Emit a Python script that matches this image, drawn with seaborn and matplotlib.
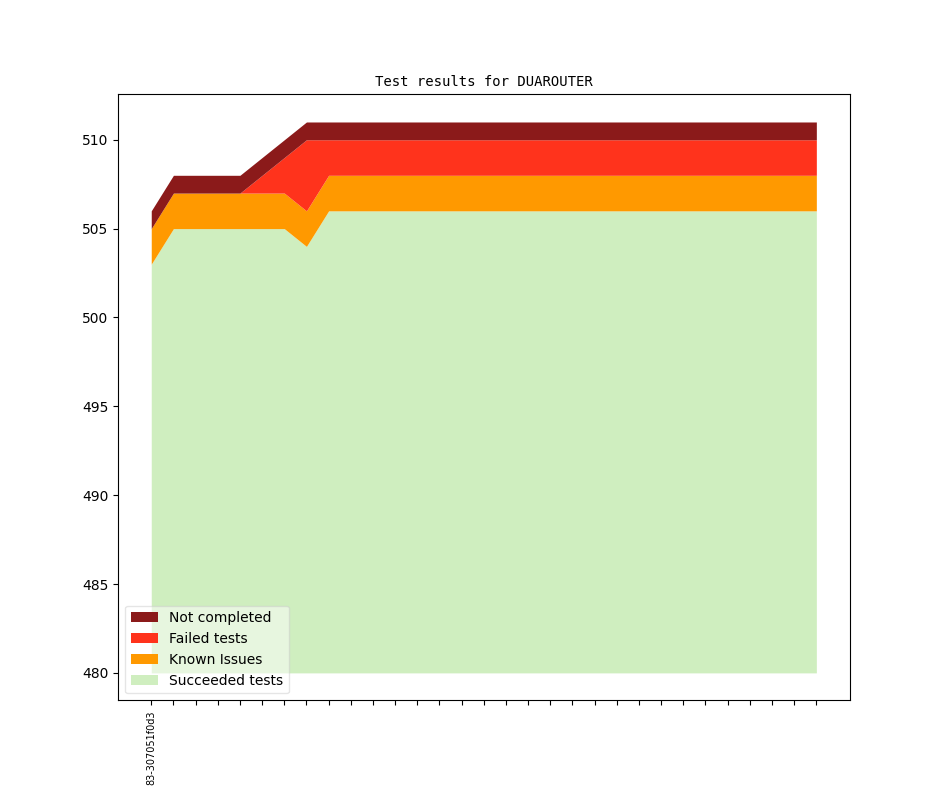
import matplotlib
matplotlib.use("Agg")
import matplotlib.pyplot as plt
import seaborn as sns
import numpy as np
import pandas as pd

revisions = ["83-307051f0d3"] + [""] * 30
succeeded = [503, 505, 505, 505, 505, 505, 505, 504] + [506] * 23
known = [2, 2, 2, 2, 2, 2, 2, 2] + [2] * 23
failed = [0, 0, 0, 0, 0, 1, 2, 4] + [2] * 23
not_completed = [1, 1, 1, 1, 1, 1, 1, 1] + [1] * 23
baseline = 480

labels = ["Succeeded tests", "Known Issues", "Failed tests", "Not completed"]
colors = ["#cfeebf", "#ff9900", "#ff331c", "#8b1a1a"]

x = np.arange(len(revisions))
df = pd.DataFrame({"x": x, "s": succeeded, "k": known, "f": failed, "n": not_completed})
df["t1"] = df["s"]
df["t2"] = df["t1"] + df["k"]
df["t3"] = df["t2"] + df["f"]
df["t4"] = df["t3"] + df["n"]

fig = plt.figure(figsize=(9.44, 7.87), dpi=100)
ax = fig.add_subplot(111)

lower = np.full(len(x), baseline)
tops = ["t1", "t2", "t3", "t4"]
handles = []
for top, lab, col in zip(tops, labels, colors):
    sns.lineplot(data=df, x="x", y=top, ax=ax, linewidth=0, color=col, legend=False)
    h = ax.fill_between(df["x"], lower, df[top], color=col, linewidth=0, label=lab)
    handles.append(h)
    lower = df[top].values

ax.set_xlabel("")
ax.set_ylabel("")
ax.set_xticks(x)
ax.set_xticklabels(revisions, rotation=90, fontsize=7)
ax.set_title("Test results for DUAROUTER", fontsize=10, family="DejaVu Sans Mono")
ax.legend(handles[::-1], labels[::-1], loc="lower left", framealpha=0.5)

fig.savefig("out.png", dpi=100)
